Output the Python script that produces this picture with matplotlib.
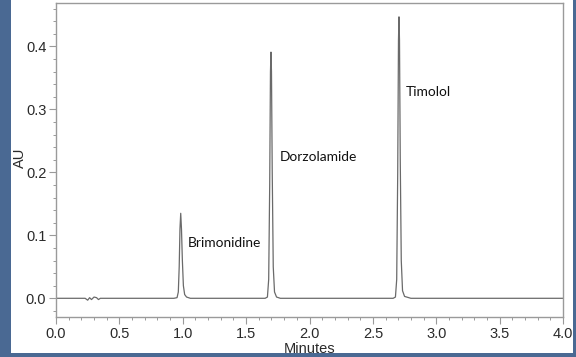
import matplotlib
matplotlib.use("Agg")
import matplotlib.pyplot as plt
from matplotlib.patches import Rectangle
from matplotlib.ticker import MultipleLocator

# chromatogram trace (minutes, AU)
minutes = [0.0, 0.23, 0.25, 0.265, 0.28, 0.30, 0.32, 0.335, 0.35,
           0.93, 0.955, 0.965, 0.972, 0.978, 0.984, 0.99, 0.997, 1.005, 1.015, 1.03, 1.06,
           1.65, 1.668, 1.678, 1.686, 1.692, 1.696, 1.700, 1.706, 1.714, 1.724, 1.74, 1.77,
           2.66, 2.678, 2.688, 2.696, 2.702, 2.706, 2.710, 2.716, 2.724, 2.734, 2.75, 2.80,
           4.0]
au = [0.0, 0.0, -0.003, 0.001, -0.002, 0.002, 0.001, -0.002, 0.0,
      0.0, 0.001, 0.01, 0.05, 0.11, 0.135, 0.11, 0.06, 0.02, 0.006, 0.002, 0.0,
      0.0, 0.002, 0.03, 0.18, 0.36, 0.391, 0.36, 0.2, 0.05, 0.01, 0.002, 0.0,
      0.0, 0.002, 0.03, 0.2, 0.41, 0.447, 0.41, 0.22, 0.06, 0.012, 0.003, 0.0,
      0.0]

peak_names = ["Brimonidine", "Dorzolamide", "Timolol"]
label_x = [1.041, 1.767, 2.759]
label_y = [0.0873, 0.2248, 0.3275]

border = "#4a6993"
spine_col = "#9a9a9a"

fig = plt.figure(figsize=(5.76, 3.57), dpi=100)
fig.patch.set_facecolor(border)
fig.patches.append(Rectangle((11 / 576, 4 / 357), 562 / 576, 353 / 357,
                             transform=fig.transFigure, facecolor="white",
                             edgecolor="none", zorder=-5))

ax = fig.add_axes([56 / 576, 40 / 357, 507 / 576, 314 / 357])
ax.set_zorder(2)
ax.plot(minutes, au, color="#6a6a6a", linewidth=0.9)

for name, x, y in zip(peak_names, label_x, label_y):
    ax.text(x, y, name, fontsize=9.9, family="Lato", color="#111111",
            ha="left", va="center")

ax.set_xlim(0, 4.0)
ax.set_ylim(-0.0297, 0.469)
ax.xaxis.set_major_locator(MultipleLocator(0.5))
ax.xaxis.set_minor_locator(MultipleLocator(0.1))
ax.yaxis.set_major_locator(MultipleLocator(0.1))
ax.yaxis.set_minor_locator(MultipleLocator(0.02))
ax.xaxis.set_major_formatter(plt.FormatStrFormatter("%.1f"))
ax.yaxis.set_major_formatter(plt.FormatStrFormatter("%.1f"))

for s in ax.spines.values():
    s.set_color(spine_col)
    s.set_linewidth(1.0)

ax.tick_params(which="major", length=5, width=0.8, color=spine_col,
               labelsize=10.5, labelcolor="#2a2a2a", pad=2)
ax.tick_params(which="minor", length=2.5, width=0.7, color=spine_col)
for lab in ax.get_xticklabels() + ax.get_yticklabels():
    lab.set_family("Liberation Sans")

ax.set_xlabel("Minutes", fontsize=10.5, family="Liberation Sans", color="#2a2a2a", labelpad=1)
ax.set_ylabel("AU", fontsize=10.5, family="Liberation Sans", color="#2a2a2a")
ax.yaxis.set_label_coords(-0.057, 0.506)

fig.savefig("out.png", dpi=100, facecolor=fig.get_facecolor())
